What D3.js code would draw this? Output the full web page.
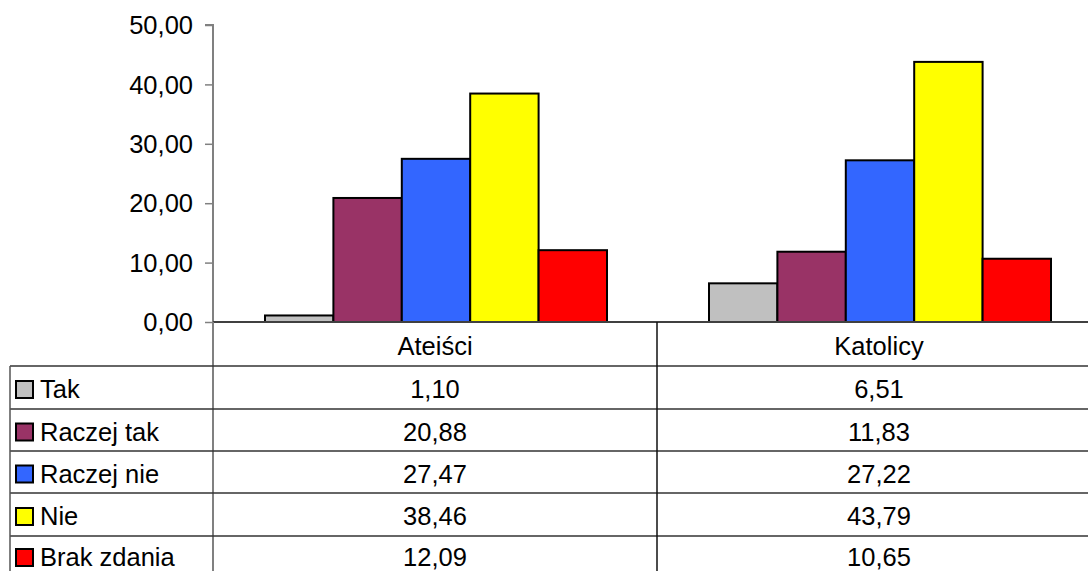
<!DOCTYPE html>
<html>
<head>
<meta charset="utf-8">
<script src="https://cdn.jsdelivr.net/npm/d3@7/dist/d3.min.js"></script>
<style>
  html, body { margin: 0; padding: 0; background: #fff; }
  svg { display: block; font-family: "Liberation Sans", Arial, sans-serif; }
</style>
</head>
<body>
<svg id="chart" width="1088" height="571"></svg>
<script>
const categories = ["Ateiści", "Katolicy"];
const seriesNames = ["Tak", "Raczej tak", "Raczej nie", "Nie", "Brak zdania"];
const seriesColors = ["#C0C0C0", "#993366", "#3366FF", "#FFFF00", "#FF0000"];
const valuesTak = [1.10, 6.51];
const valuesRaczejTak = [20.88, 11.83];
const valuesRaczejNie = [27.47, 27.22];
const valuesNie = [38.46, 43.79];
const valuesBrak = [12.09, 10.65];
const yTicks = [0, 10, 20, 30, 40, 50];

(function () {
const seriesValues = [valuesTak, valuesRaczejTak, valuesRaczejNie, valuesNie, valuesBrak];
const fmt = v => v.toFixed(2).replace(".", ",");

const svg = d3.select("#chart");
const plotLeft = 213, plotRight = 1101, plotTop = 25, plotBase = 322;
const fontSize = 25.5;

const x = d3.scaleBand().domain(categories).range([plotLeft, plotRight]).padding(0);
const xs = d3.scaleBand().domain(seriesNames).range([52, 394]).padding(0);
const y = d3.scaleLinear().domain([0, 50]).range([plotBase, plotTop]);

// bars
categories.forEach((c, ci) => {
  const g = svg.append("g").attr("transform", `translate(${x(c)},0)`);
  seriesNames.forEach((s, si) => {
    const v = seriesValues[si][ci];
    g.append("rect")
      .attr("x", xs(s))
      .attr("y", y(v))
      .attr("width", xs.bandwidth())
      .attr("height", y(0) - y(v))
      .attr("fill", seriesColors[si])
      .attr("stroke", "#000")
      .attr("stroke-width", 2);
  });
});

// y axis
const yAxis = d3.axisLeft(y).tickValues(yTicks).tickFormat(fmt).tickSize(8).tickPadding(12);
const ya = svg.append("g").attr("transform", `translate(${plotLeft},0)`).call(yAxis);
ya.select(".domain").attr("stroke", "#808080").attr("stroke-width", 2).attr("d", `M-8,${plotTop}H0V${plotBase}`);
ya.selectAll(".tick line").attr("stroke", "#808080").attr("stroke-width", 1.5);
ya.selectAll(".tick text").attr("font-size", fontSize).attr("fill", "#000")
  .attr("font-family", "'Liberation Sans', Arial, sans-serif").attr("dy", "0.34em");

// data table
const rowTops = [366, 409, 451, 493, 536, 578];
const tableLeft = 10;
const lineColor = "#333";
svg.append("line").attr("x1", plotLeft).attr("x2", 1088).attr("y1", plotBase).attr("y2", plotBase)
  .attr("stroke", "#404040").attr("stroke-width", 2);
svg.append("line").attr("x1", plotLeft).attr("x2", plotLeft).attr("y1", plotBase).attr("y2", 571)
  .attr("stroke", "#808080").attr("stroke-width", 2);
rowTops.forEach(ry => {
  svg.append("line").attr("x1", tableLeft).attr("x2", 1088).attr("y1", ry).attr("y2", ry)
    .attr("stroke", lineColor).attr("stroke-width", 1.5);
});
svg.append("line").attr("x1", tableLeft).attr("x2", tableLeft).attr("y1", rowTops[0]).attr("y2", 571)
  .attr("stroke", "#555").attr("stroke-width", 1.5);
categories.forEach((c, ci) => {
  if (ci > 0) {
    svg.append("line").attr("x1", x(c)).attr("x2", x(c)).attr("y1", plotBase).attr("y2", 571)
      .attr("stroke", "#111").attr("stroke-width", 1.5);
  }
});
svg.append("line").attr("x1", plotRight).attr("x2", plotRight).attr("y1", plotBase).attr("y2", 571)
  .attr("stroke", "#111").attr("stroke-width", 1.5);

// header labels
categories.forEach(c => {
  svg.append("text").attr("x", x(c) + x.bandwidth() / 2).attr("y", (plotBase + rowTops[0]) / 2 + 2)
    .attr("text-anchor", "middle").attr("dy", "0.35em").attr("font-size", fontSize).text(c);
});

// rows
seriesNames.forEach((s, si) => {
  const cy = (rowTops[si] + rowTops[si + 1]) / 2 + (si === seriesNames.length - 1 ? 0.5 : 2);
  svg.append("rect").attr("x", 16).attr("y", cy - 8.5).attr("width", 17).attr("height", 17)
    .attr("fill", seriesColors[si]).attr("stroke", "#000").attr("stroke-width", 2);
  svg.append("text").attr("x", 40).attr("y", cy).attr("dy", "0.35em")
    .attr("font-size", fontSize).text(s);
  categories.forEach((c, ci) => {
    svg.append("text").attr("x", x(c) + x.bandwidth() / 2).attr("y", cy).attr("dy", "0.35em")
      .attr("text-anchor", "middle").attr("font-size", fontSize).text(fmt(seriesValues[si][ci]));
  });
});
})();
</script>
</body>
</html>
